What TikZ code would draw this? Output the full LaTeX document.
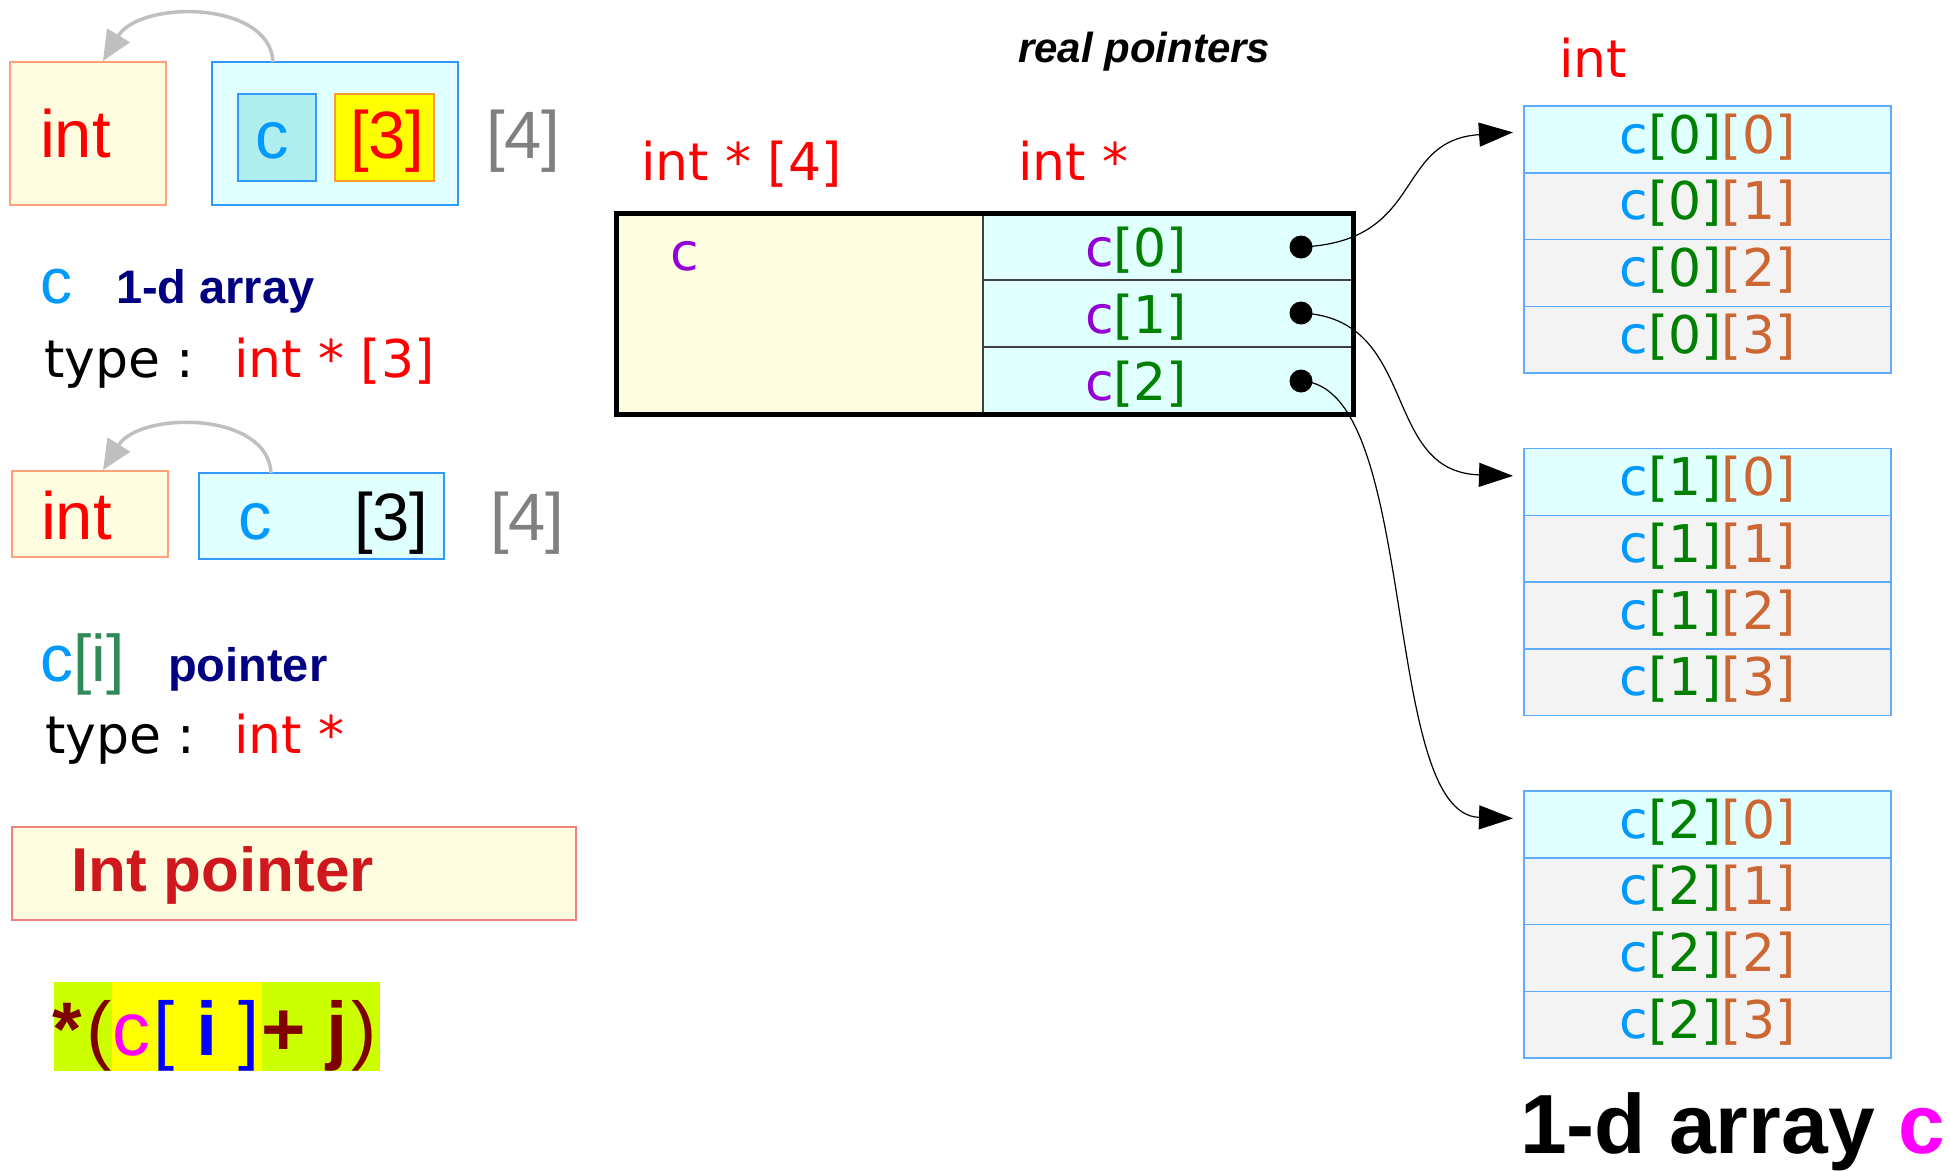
\documentclass[tikz,border=0pt]{standalone}
\usepackage{fontspec}
\setmainfont{DejaVu Sans}
\newfontfamily\lib{Liberation Sans}
\usetikzlibrary{arrows.meta,calc}
\newcommand\setfs[1]{\fontsize{#1}{#1}\selectfont}

\definecolor{lyellow}{HTML}{FFFDE0}
\definecolor{lcyan}{HTML}{E0FFFF}
\definecolor{pturq}{HTML}{AFEEEE}
\definecolor{dodger}{HTML}{3399FF}
\definecolor{salmon}{HTML}{FFA07A}
\definecolor{cblue}{HTML}{0099FF}
\definecolor{navyb}{HTML}{000080}
\definecolor{sgreen}{HTML}{2E8B57}
\definecolor{dviolet}{HTML}{9400D3}
\definecolor{dgreen}{HTML}{008000}
\definecolor{choc}{HTML}{CC6633}
\definecolor{smoke}{HTML}{F3F3F3}
\definecolor{rowline}{HTML}{5EABFF}
\definecolor{fbrick}{HTML}{CE181E}
\definecolor{lcoral}{HTML}{F08080}
\definecolor{maroonc}{HTML}{800000}
\definecolor{lime}{HTML}{CCFF00}
\definecolor{silverc}{HTML}{BFBFBF}
\definecolor{grayt}{HTML}{808080}
\definecolor{orangeb}{HTML}{FF9933}
\definecolor{pinkc}{HTML}{FF00FF}
\definecolor{yellowc}{HTML}{FFFF00}

\begin{document}
\begin{tikzpicture}[x=1pt,y=-1pt,
  lbl/.style={inner sep=0pt, outer sep=0pt, anchor=base west},
  cbox/.style={inner sep=0pt, outer sep=0pt, anchor=north west},
  big/.style={font=\lib\setfs{67}},
  mid/.style={font=\setfs{52}},
  head/.style={font=\lib\bfseries\setfs{47}, text=navyb},
  typearrow/.style={draw=silverc, line width=3.5pt, -{Triangle[length=30pt,width=26pt]}},
  ptr/.style={draw=black, line width=1.2pt, -{Triangle[length=34pt,width=24pt]}},
  cell/.style={cbox, draw=black!75, line width=1.5pt, minimum width=370pt, minimum height=67pt, fill=lcyan},
  elem/.style={cbox, draw=rowline, line width=1.5pt, minimum width=367pt, minimum height=66.75pt, fill=smoke},
  blob/.style={circle, fill=black, inner sep=0pt, minimum size=23pt}
]
\useasboundingbox (0,0) rectangle (1950,1170);

% ---------- c as an array of 3 elements, 4 times ----------
\node[cbox, fill=lyellow, draw=salmon, line width=2.5pt, minimum width=156pt, minimum height=143pt] (intA) at (10,62) {};
\node[lbl, big, text=red] (intAt) at (40,157) {int};
\node[cbox, fill=lcyan, draw=dodger, line width=2.5pt, minimum width=246pt, minimum height=143pt] (arrA) at (212,62) {};
\node[cbox, fill=pturq, draw=dodger, line width=2pt, minimum width=78pt, minimum height=87pt] (cA) at (238,94) {};
\node[lbl, big, text=cblue] (cAt) at (255,158) {c};
\node[cbox, fill=yellowc, draw=orangeb, line width=2pt, minimum width=99pt, minimum height=87pt] (dimA) at (335,94) {};
\node[lbl, big, text=red] (dimAt) at (350,158) {[3]};
\node[lbl, big, text=grayt] (fourA) at (486,158) {[4]};
\coordinate (srcA) at (273,62);
\coordinate (dstA) at (103,61);
\draw[typearrow] (srcA) .. controls (270,0) and (140,0) .. (dstA);

\node[lbl, font=\lib\setfs{64}, text=cblue] (cname) at (40,303) {c};
\node[lbl, head] (arrdesc) at (116,303) {1-d array};
\node[lbl, mid] (typeA) at (44,377) {type :};
\node[lbl, mid, text=red] (typeAv) at (234,377) {int * [3]};

% ---------- c[i] view ----------
\node[cbox, fill=lyellow, draw=salmon, line width=2.5pt, minimum width=156pt, minimum height=86pt] (intB) at (12,471) {};
\node[lbl, big, text=red] (intBt) at (41,539) {int};
\node[cbox, fill=lcyan, draw=dodger, line width=2.5pt, minimum width=245pt, minimum height=86pt] (arrB) at (199,473) {};
\node[lbl, big, text=cblue] (cBt) at (238,539) {c};
\node[lbl, big, text=black] (dimBt) at (354,540) {[3]};
\node[lbl, big, text=grayt] (fourB) at (490,540) {[4]};
\coordinate (srcB) at (271,473);
\coordinate (dstB) at (103,470);
\draw[typearrow] (srcB) .. controls (268,411) and (140,411) .. (dstB);

\node[lbl, font=\lib\setfs{66}] (ciname) at (40,681) {\textcolor{cblue}{c}\textcolor{sgreen}{[i]}};
\node[lbl, head] (ptrdesc) at (168,681) {pointer};
\node[lbl, mid] (typeB) at (45,753) {type :};
\node[lbl, mid, text=red] (typeBv) at (234,753) {int *};

% ---------- Int pointer banner ----------
\node[cbox, fill=lyellow, draw=lcoral, line width=1.5pt, minimum width=564pt, minimum height=93pt] (banner) at (12,827) {};
\node[lbl, font=\lib\bfseries\setfs{62}, text=fbrick] (bannert) at (71,891) {Int pointer};

% ---------- *(c[ i ]+ j) ----------
\fill[lime] (54,982) rectangle (112,1071);
\fill[yellowc] (112,982) rectangle (262,1071);
\fill[lime] (262,982) rectangle (380,1071);
\begin{scope}[every node/.style={lbl, font=\lib\setfs{76}}]
\node[text=maroonc, font=\lib\bfseries\setfs{76}] (ex1) at (52,1055) {*};
\node[text=maroonc] (ex2) at (86,1055) {(};
\node[text=pinkc] (ex3) at (112,1055) {c};
\node[text=blue] (ex4) at (153,1055) {[};
\node[text=blue, font=\lib\bfseries\setfs{76}] (ex5) at (196,1055) {i};
\node[text=blue] (ex6) at (238,1055) {]};
\node[text=maroonc, font=\lib\bfseries\setfs{76}] (ex7) at (261,1055) {+};
\node[text=maroonc, font=\lib\bfseries\setfs{76}] (ex8) at (326,1055) {j};
\node[text=maroonc] (ex9) at (351,1055) {)};
\end{scope}

% ---------- array of pointers ----------
\node[lbl, font=\lib\bfseries\itshape\setfs{42}] (real) at (1018,62) {real pointers};
\node[lbl, mid, text=red] (tarr) at (641,180) {int * [4]};
\node[lbl, mid, text=red] (tptr) at (1018,180) {int *};
\node[lbl, mid, text=red] (tint) at (1559,77) {int};

\node[cbox, fill=lyellow, draw=black!75, line width=1.5pt, minimum width=367pt, minimum height=201pt] (cleft) at (616,213) {};
\node[cell] (p0) at (983,213) {};
\node[cell] (p1) at (983,280) {};
\node[cell] (p2) at (983,347) {};
\node[cbox, draw=black, line width=5pt, minimum width=737pt, minimum height=201pt] (frame) at (616,213) {};
\node[lbl, mid, text=dviolet] (cleftt) at (670,270) {c};
\node[lbl, mid] (p0t) at (1085,266) {\textcolor{dviolet}{c}\textcolor{dgreen}{[0]}};
\node[lbl, mid] (p1t) at (1085,333) {\textcolor{dviolet}{c}\textcolor{dgreen}{[1]}};
\node[lbl, mid] (p2t) at (1085,400) {\textcolor{dviolet}{c}\textcolor{dgreen}{[2]}};
\node[blob] (d0) at (1301,247) {};
\node[blob] (d1) at (1301,313) {};
\node[blob] (d2) at (1301,381) {};

% ---------- the pointed-to rows ----------
\foreach \g/\top in {0/106,1/448.5,2/791} {
  \foreach \k in {0,1,2,3} {
    \pgfmathsetmacro\ytop{\top+66.75*\k}
    \ifnum\k=0
      \node[elem, fill=lcyan] (g\g r\k) at (1524,\ytop) {};
    \else
      \node[elem] (g\g r\k) at (1524,\ytop) {};
    \fi
    \node[anchor=base, inner sep=0pt, mid] (g\g t\k) at ($(g\g r\k.north)+(0,47)$)
      {\textcolor{cblue}{c}\textcolor{dgreen}{[\g]}\textcolor{choc}{[\k]}};
  }
}
\coordinate (e0) at ($(g0r0.west)+(-11,-7)$);
\coordinate (e1) at ($(g1r0.west)+(-11,-6)$);
\coordinate (e2) at ($(g2r0.west)+(-11,-6)$);
\draw[ptr] (d0.center) .. controls +(125,-5) and +(-120,8) .. (e0);
\draw[ptr] (d1.center) .. controls +(119,5) and +(-133,-4) .. (e1);
\draw[ptr] (d2.center) .. controls +(119,4) and +(-133,-4) .. (e2);

% ---------- caption ----------
\node[lbl, font=\lib\bfseries\setfs{84}] (caption) at (1520,1153) {1-d array \textcolor{pinkc}{c}};
\end{tikzpicture}
\end{document}
